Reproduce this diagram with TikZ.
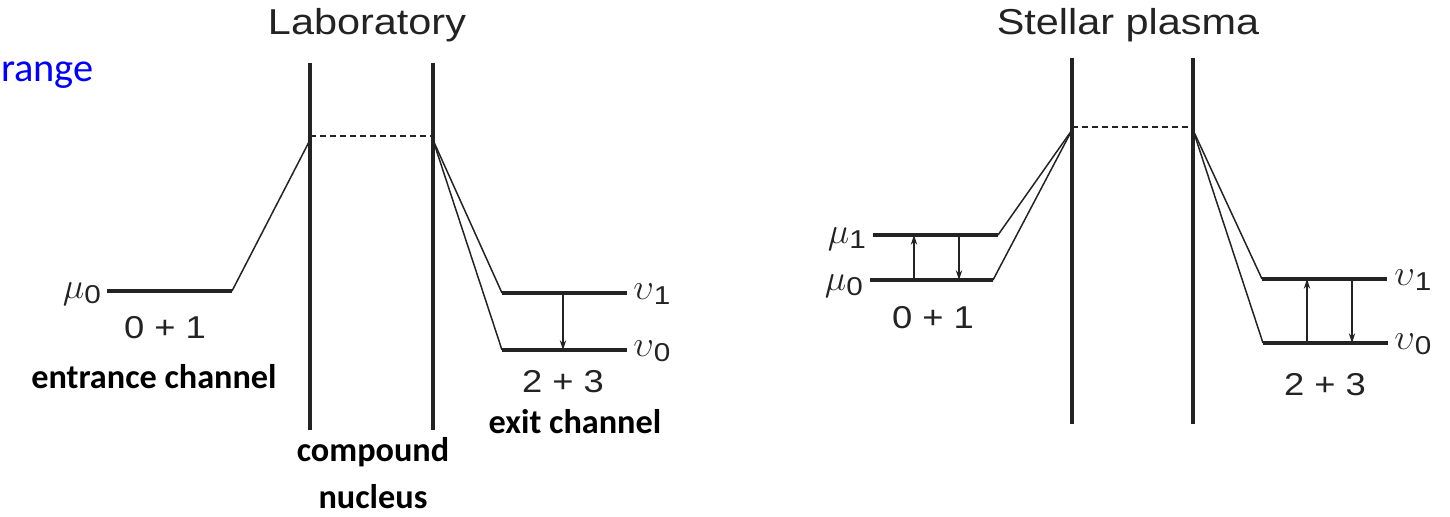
\documentclass[tikz,border=0pt]{standalone}
\usepackage{fontspec}
\setmainfont{Liberation Sans}
\newfontfamily\figfont[FakeStretch=1.15]{Liberation Sans}
\newfontfamily\slidefont{Carlito}
\usetikzlibrary{arrows.meta}
\definecolor{ink}{RGB}{35,35,35}
\newcommand{\lvlname}[2]{$#1$\textsubscript{#2}}

\begin{document}
\begin{tikzpicture}[x=0.02cm, y=-0.02cm,
  wall/.style={ink, line width=1.8pt},
  lvl/.style={ink, line width=1.9pt},
  slope/.style={ink, line width=0.85pt},
  gap/.style={ink, line width=0.9pt, dash pattern=on 3.4pt off 2.3pt},
  arr/.style={-{Stealth[length=5.5pt, width=3.6pt]}, ink, line width=0.7pt},
  title/.style={font=\figfont\fontsize{20.5}{24}\selectfont, text=ink, anchor=base},
  num/.style={font=\figfont\fontsize{18}{22}\selectfont, text=ink, anchor=base},
  sym/.style={font=\figfont\fontsize{21}{24}\selectfont, text=ink, inner sep=0pt},
  tag/.style={font=\slidefont\bfseries\fontsize{19.5}{26.5}\selectfont,
              align=center, anchor=base}
]
  \useasboundingbox (0,0) rectangle (1450,517);

  \node[font=\slidefont\fontsize{23}{27}\selectfont, text=blue, anchor=base east,
        inner sep=0pt] (rng) at (94,82) {range};

  % Laboratory
  \node[title] (labT) at (367,35) {Laboratory};
  \coordinate (la1) at (310,63);  \coordinate (la2) at (310,430);
  \coordinate (lb1) at (433,63);  \coordinate (lb2) at (433,430);
  \coordinate (lcA) at (310,136); \coordinate (lcB) at (433,136);
  \coordinate (lpA) at (310,140); \coordinate (lpB) at (433,140);
  \coordinate (lm0a) at (107,291); \coordinate (lm0b) at (232,291);
  \coordinate (lv1a) at (502,293); \coordinate (lv1b) at (627,293);
  \coordinate (lv0a) at (502,350); \coordinate (lv0b) at (627,350);
  \coordinate (ldn1) at (563,293); \coordinate (ldn0) at (563,350);

  \draw[wall] (la1) -- (la2);
  \draw[wall] (lb1) -- (lb2);
  \draw[gap] (lcA) -- (lcB);
  \draw[lvl] (lm0a) -- (lm0b);
  \draw[slope] (lm0b) -- (lpA);
  \draw[slope] (lpB) -- (lv1a);
  \draw[slope] (lpB) -- (lv0a);
  \draw[lvl] (lv1a) -- (lv1b);
  \draw[lvl] (lv0a) -- (lv0b);
  \draw[arr] (ldn1) -- (ldn0);

  \node[sym, anchor=base east] (lmu0) at (102,298) {\lvlname{\mu}{0}};
  \node[sym, anchor=base west] (lnu1) at (633,299) {\lvlname{\upsilon}{1}};
  \node[sym, anchor=base west] (lnu0) at (633,356) {\lvlname{\upsilon}{0}};
  \node[num] (lin) at (165,338) {0 + 1};
  \node[num] (lout) at (563,392) {2 + 3};

  % Labels
  \node[tag] (entr) at (154,388) {entrance channel};
  \node[tag] (exit) at (575,433) {exit channel};
  \node[tag] (cmpd) at (373,508) {compound\\nucleus};

  % Stellar plasma
  \node[title] (stT) at (1128,35) {Stellar plasma};
  \coordinate (sa1) at (1072,58);  \coordinate (sa2) at (1072,424);
  \coordinate (sb1) at (1193,58);  \coordinate (sb2) at (1193,424);
  \coordinate (scA) at (1072,127); \coordinate (scB) at (1193,127);
  \coordinate (spA) at (1072,130); \coordinate (spB) at (1193,130);
  \coordinate (sm1a) at (873,235); \coordinate (sm1b) at (998,235);
  \coordinate (sm0a) at (870,280); \coordinate (sm0b) at (993,280);
  \coordinate (sv1a) at (1262,279); \coordinate (sv1b) at (1387,279);
  \coordinate (sv0a) at (1263,343); \coordinate (sv0b) at (1388,343);
  \coordinate (sup0) at (914,280);  \coordinate (sup1) at (914,235);
  \coordinate (sdn1) at (959,235);  \coordinate (sdn0) at (959,280);
  \coordinate (tup0) at (1307,343); \coordinate (tup1) at (1307,279);
  \coordinate (tdn1) at (1352,279); \coordinate (tdn0) at (1352,343);

  \draw[wall] (sa1) -- (sa2);
  \draw[wall] (sb1) -- (sb2);
  \draw[gap] (scA) -- (scB);
  \draw[lvl] (sm1a) -- (sm1b);
  \draw[lvl] (sm0a) -- (sm0b);
  \draw[slope] (sm1b) -- (spA);
  \draw[slope] (sm0b) -- (spA);
  \draw[slope] (spB) -- (sv1a);
  \draw[slope] (spB) -- (sv0a);
  \draw[lvl] (sv1a) -- (sv1b);
  \draw[lvl] (sv0a) -- (sv0b);
  \draw[arr] (sup0) -- (sup1);
  \draw[arr] (sdn1) -- (sdn0);
  \draw[arr] (tup0) -- (tup1);
  \draw[arr] (tdn1) -- (tdn0);

  \node[sym, anchor=base east] (smu1) at (867,243) {\lvlname{\mu}{1}};
  \node[sym, anchor=base east] (smu0) at (864,290) {\lvlname{\mu}{0}};
  \node[sym, anchor=base west] (snu1) at (1394,285) {\lvlname{\upsilon}{1}};
  \node[sym, anchor=base west] (snu0) at (1394,349) {\lvlname{\upsilon}{0}};
  \node[num] (sin) at (933,328) {0 + 1};
  \node[num] (sout) at (1325,395) {2 + 3};
\end{tikzpicture}
\end{document}
